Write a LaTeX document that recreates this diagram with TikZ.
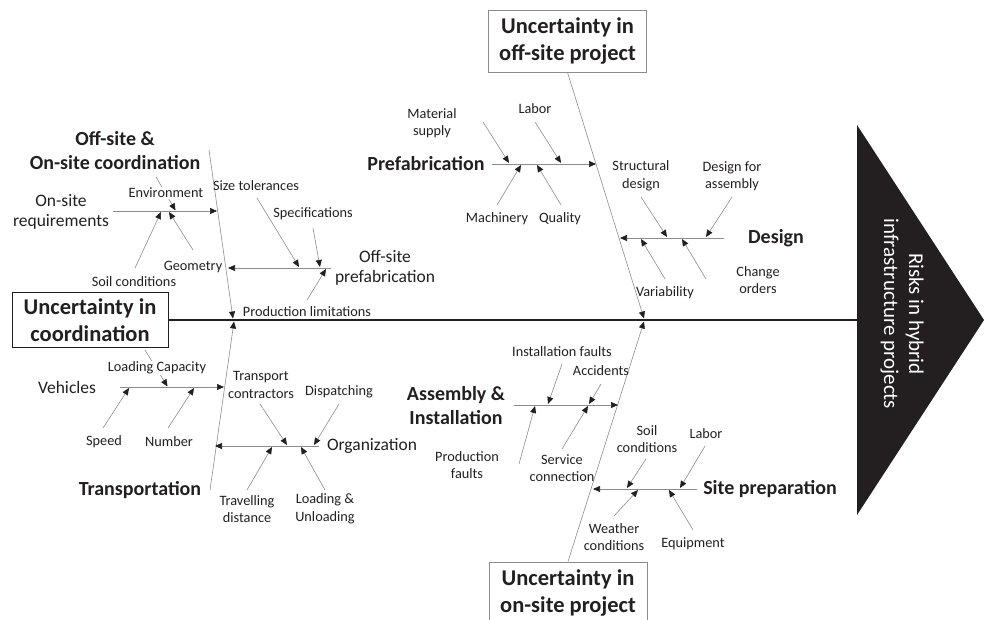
\documentclass[tikz,border=0pt]{standalone}
\usepackage{fontspec}
\setmainfont{Carlito}
\usetikzlibrary{arrows.meta}
\definecolor{ink}{HTML}{231F20}
\definecolor{bonegray}{HTML}{8C8C8C}
\tikzset{
  twig/.style={draw=bonegray,line width=0.6pt,-{Triangle[length=7pt,width=6pt,color=ink]}},
  lbl/.style={text=ink,font=\fontsize{14.3}{17.5}\selectfont,align=center,inner sep=1pt},
  mid/.style={text=ink,font=\fontsize{17.5}{20.5}\selectfont,align=center,inner sep=1pt},
  head/.style={text=ink,font=\fontsize{20}{24}\selectfont\bfseries,align=center,inner sep=1pt},
  causebox/.style={draw=#1,line width=0.9pt,text=ink,font=\fontsize{22.5}{26.5}\selectfont\bfseries,align=center,minimum width=158pt,inner sep=2pt},
}
\begin{document}
\begin{tikzpicture}[x=1pt,y=-1pt]
\useasboundingbox (0,0) rectangle (984,620);
\clip (0,0) rectangle (984,620);
% fish head
\fill[ink] (857,125) -- (984,320) -- (857,515) -- cycle;
\node[rotate=-90,text=white,font=\fontsize{21}{25}\selectfont,align=center] (risk) at (902,314) {Risks in hybrid\\infrastructure projects};
% cause boxes and spine
\node[causebox=ink,minimum width=156pt,minimum height=55pt] (coord) at (90,320) {Uncertainty in\\coordination};
\node[causebox=bonegray,minimum height=62pt] (offsite) at (567.5,41) {Uncertainty in\\off-site project};
\node[causebox=bonegray,minimum height=62pt] (onsite) at (568,593) {Uncertainty in\\on-site project};
\coordinate (tail) at (857,320);
\draw[ink,line width=1.6pt] (coord.east) -- (tail);
% main bones
\coordinate (ul0) at (209,150);
\coordinate (ul1) at (233,318.5);
\coordinate (ll0) at (210,490);
\coordinate (ll1) at (234,321.5);
\coordinate (ur1) at (644,318.5);
\coordinate (lr1) at (644,321.5);
\draw[twig] (ul0) -- (ul1);
\draw[twig] (ll0) -- (ll1);
\draw[twig] (offsite.south) -- (ur1);
\draw[twig] (onsite.north) -- (lr1);

% Off-site & On-site coordination
\node[head] (cooh) at (115,151) {Off-site \&\\On-site coordination};
\node[mid] (osr) at (61,212) {On-site\\requirements};
\coordinate (osr0) at (113,211);
\coordinate (osr1) at (217,211);
\draw[twig] (osr0) -- (osr1);
\coordinate (env0) at (156,177);
\coordinate (env1) at (175.5,210.5);
\draw[twig] (env0) -- (env1);
\node[lbl,fill=white] (env) at (166,193) {Environment};
\node[lbl] (soil) at (134,282) {Soil conditions};
\coordinate (soil0) at (135,268);
\coordinate (soil1) at (161,212);
\draw[twig] (soil0) -- (soil1);
\node[lbl] (geo) at (193,267) {Geometry};
\coordinate (geo0) at (193,250);
\coordinate (geo1) at (169,212);
\draw[twig] (geo0) -- (geo1);
\node[mid] (osp) at (385,268) {Off-site\\prefabrication};
\coordinate (osp0) at (331,268);
\coordinate (osp1) at (228,268);
\draw[twig] (osp0) -- (osp1);
\node[lbl] (size) at (256,186) {Size tolerances};
\coordinate (size0) at (257,198);
\coordinate (size1) at (299,267);
\draw[twig] (size0) -- (size1);
\node[lbl] (spec) at (313,214) {Specifications};
\coordinate (spec0) at (313,228);
\coordinate (spec1) at (320,267);
\draw[twig] (spec0) -- (spec1);
\node[lbl] (plim) at (307,312) {Production limitations};
\coordinate (plim0) at (307,300);
\coordinate (plim1) at (326,269);
\draw[twig] (plim0) -- (plim1);

% Transportation
\node[head] (trans) at (140,490) {Transportation};
\node[mid] (veh) at (67,387) {Vehicles};
\coordinate (veh0) at (120,387);
\coordinate (veh1) at (224,387);
\draw[twig] (veh0) -- (veh1);
\coordinate (cap0) at (145,350);
\coordinate (cap1) at (167.5,386.5);
\draw[twig] (cap0) -- (cap1);
\node[lbl,fill=white] (cap) at (157,368) {Loading Capacity};
\node[lbl] (speed) at (104,442) {Speed};
\coordinate (speed0) at (103,428);
\coordinate (speed1) at (129,388);
\draw[twig] (speed0) -- (speed1);
\node[lbl] (num) at (169,442) {Number};
\coordinate (num0) at (168,428);
\coordinate (num1) at (194,388);
\draw[twig] (num0) -- (num1);
\node[mid] (org) at (372,446) {Organization};
\coordinate (org0) at (319,446);
\coordinate (org1) at (215,446);
\draw[twig] (org0) -- (org1);
\node[lbl] (tcon) at (261,385) {Transport\\contractors};
\coordinate (tcon0) at (260,404);
\coordinate (tcon1) at (287,445);
\draw[twig] (tcon0) -- (tcon1);
\node[lbl] (disp) at (339,392) {Dispatching};
\coordinate (disp0) at (339,404);
\coordinate (disp1) at (314,445);
\draw[twig] (disp0) -- (disp1);
\node[lbl] (trav) at (247,509) {Travelling\\distance};
\coordinate (trav0) at (247,490);
\coordinate (trav1) at (272,447);
\draw[twig] (trav0) -- (trav1);
\node[lbl] (unl) at (325,509) {Loading \&\\Unloading};
\coordinate (unl0) at (325,490);
\coordinate (unl1) at (301,447);
\draw[twig] (unl0) -- (unl1);

% Prefabrication
\node[head] (pref) at (426,164) {Prefabrication};
\coordinate (pref0) at (492,164);
\coordinate (pref1) at (596,164);
\draw[twig] (pref0) -- (pref1);
\node[lbl] (mat) at (432,123) {Material\\supply};
\coordinate (mat0) at (483,122);
\coordinate (mat1) at (509,163);
\draw[twig] (mat0) -- (mat1);
\node[lbl] (plab) at (535,109) {Labor};
\coordinate (plab0) at (535,122);
\coordinate (plab1) at (561,163);
\draw[twig] (plab0) -- (plab1);
\node[lbl] (mach) at (497,219) {Machinery};
\coordinate (mach0) at (497,205);
\coordinate (mach1) at (521,165);
\draw[twig] (mach0) -- (mach1);
\node[lbl] (qual) at (560,219) {Quality};
\coordinate (qual0) at (561,205);
\coordinate (qual1) at (537,165);
\draw[twig] (qual0) -- (qual1);

% Design
\node[head] (des) at (776,238) {Design};
\coordinate (des0) at (724,238);
\coordinate (des1) at (620,238);
\draw[twig] (des0) -- (des1);
\node[lbl] (struc) at (641,176) {Structural\\design};
\coordinate (struc0) at (641,197);
\coordinate (struc1) at (667,237);
\draw[twig] (struc0) -- (struc1);
\node[lbl] (dfa) at (732,176) {Design for\\assembly};
\coordinate (dfa0) at (732,197);
\coordinate (dfa1) at (706,237);
\draw[twig] (dfa0) -- (dfa1);
\node[lbl] (var) at (665,293) {Variability};
\coordinate (var0) at (665,279);
\coordinate (var1) at (641,239);
\draw[twig] (var0) -- (var1);
\node[lbl] (chg) at (758,280) {Change\\orders};
\coordinate (chg0) at (706,279);
\coordinate (chg1) at (682,239);
\draw[twig] (chg0) -- (chg1);

% Assembly & Installation
\node[head] (asm) at (456,406) {Assembly \&\\Installation};
\coordinate (asm0) at (514,405);
\coordinate (asm1) at (618,405);
\draw[twig] (asm0) -- (asm1);
\node[lbl] (ifault) at (562,352) {Installation faults};
\coordinate (ifault0) at (562,364);
\coordinate (ifault1) at (548,404);
\draw[twig] (ifault0) -- (ifault1);
\node[lbl] (acc) at (601,371) {Accidents};
\coordinate (acc0) at (601,384);
\coordinate (acc1) at (589,404);
\draw[twig] (acc0) -- (acc1);
\node[lbl] (pfault) at (467,465) {Production\\faults};
\coordinate (pfault0) at (519,464);
\coordinate (pfault1) at (535,406);
\draw[twig] (pfault0) -- (pfault1);
\node[lbl] (serv) at (562,468) {Service\\connection};
\coordinate (serv0) at (562,449);
\coordinate (serv1) at (588,406);
\draw[twig] (serv0) -- (serv1);

% Site preparation
\node[head] (site) at (770,489) {Site preparation};
\coordinate (site0) at (697,489);
\coordinate (site1) at (593,489);
\draw[twig] (site0) -- (site1);
\node[lbl] (ssoil) at (647,439) {Soil\\conditions};
\coordinate (ssoil0) at (646,459);
\coordinate (ssoil1) at (627,488);
\draw[twig] (ssoil0) -- (ssoil1);
\node[lbl] (slab) at (706,434) {Labor};
\coordinate (slab0) at (705,446);
\coordinate (slab1) at (680,488);
\draw[twig] (slab0) -- (slab1);
\node[lbl] (wea) at (614,537) {Weather\\conditions};
\coordinate (wea0) at (614,516);
\coordinate (wea1) at (638,490);
\draw[twig] (wea0) -- (wea1);
\node[lbl] (equip) at (693,544) {Equipment};
\coordinate (equip0) at (693,530);
\coordinate (equip1) at (669,490);
\draw[twig] (equip0) -- (equip1);
\end{tikzpicture}
\end{document}
